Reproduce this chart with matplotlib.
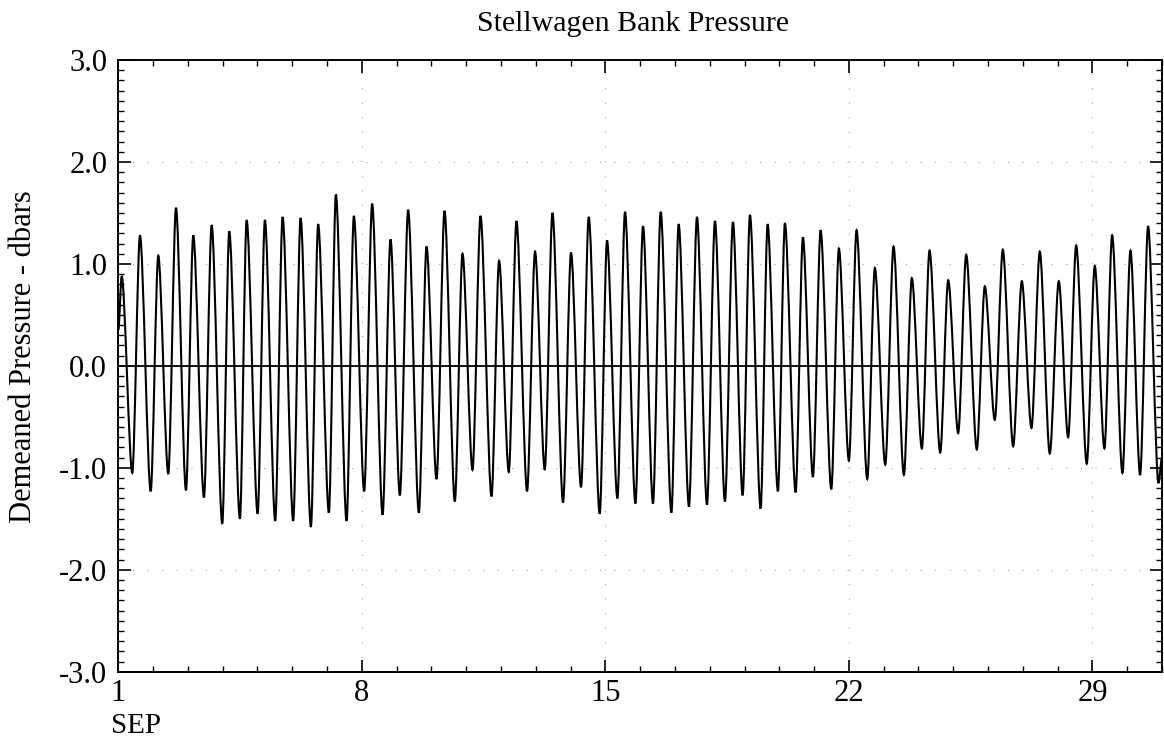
import matplotlib
matplotlib.use("Agg")
import matplotlib.pyplot as plt
from matplotlib.path import Path
from matplotlib.patches import PathPatch
from matplotlib.ticker import MultipleLocator, FixedLocator, FormatStrFormatter

plt.rcParams['font.family'] = ['Liberation Serif', 'DejaVu Serif']

# ---- data ----
title = "Stellwagen Bank Pressure"
ylabel = "Demeaned Pressure - dbars"
month_label = "SEP"
xtick_days = [1, 8, 15, 22, 29]

# high-water times (day of September) and values (dbar)
high_days = [1.098, 1.623, 2.149, 2.658, 3.155, 3.683, 4.189, 4.689, 5.214, 5.723,
             6.240, 6.745, 7.254, 7.771, 8.297, 8.825, 9.331, 9.860, 10.377, 10.894,
             11.411, 11.945, 12.445, 12.979, 13.479, 14.013, 14.522, 15.048, 15.565, 16.082,
             16.590, 17.107, 17.633, 18.150, 18.667, 19.156, 19.664, 20.161, 20.678, 21.187,
             21.713, 22.221, 22.747, 23.284, 23.810, 24.318, 24.855, 25.372, 25.907, 26.424,
             26.970, 27.487, 28.033, 28.533, 29.067, 29.567, 30.093, 30.600]
high_vals = [0.88, 1.28, 1.08, 1.55, 1.28, 1.38, 1.32, 1.43, 1.43, 1.46,
             1.45, 1.39, 1.68, 1.47, 1.59, 1.24, 1.53, 1.17, 1.52, 1.10,
             1.47, 1.03, 1.42, 1.12, 1.50, 1.11, 1.46, 1.23, 1.51, 1.37,
             1.51, 1.39, 1.46, 1.42, 1.41, 1.48, 1.39, 1.40, 1.26, 1.33,
             1.15, 1.33, 0.96, 1.17, 0.86, 1.13, 0.84, 1.09, 0.78, 1.14,
             0.83, 1.12, 0.83, 1.18, 0.98, 1.28, 1.13, 1.37]

# low-water times and values
low_days = [1.402, 1.931, 2.436, 2.945, 3.462, 3.988, 4.496, 5.005, 5.510, 6.027,
            6.536, 7.053, 7.561, 8.067, 8.596, 9.093, 9.639, 10.147, 10.673, 11.181,
            11.727, 12.224, 12.750, 13.258, 13.784, 14.301, 14.838, 15.346, 15.864, 16.369,
            16.898, 17.403, 17.921, 18.438, 18.946, 19.463, 19.960, 20.469, 20.966, 21.494,
            22.000, 22.528, 23.045, 23.580, 24.097, 24.625, 25.142, 25.677, 26.194, 26.722,
            27.248, 27.774, 28.302, 28.837, 29.345, 29.862, 30.371, 30.900]
low_vals = [-1.05, -1.23, -1.06, -1.22, -1.29, -1.55, -1.50, -1.45, -1.52, -1.52,
            -1.58, -1.44, -1.52, -1.23, -1.46, -1.27, -1.44, -1.11, -1.33, -1.02,
            -1.28, -1.04, -1.23, -1.02, -1.34, -1.19, -1.45, -1.30, -1.35, -1.35,
            -1.44, -1.38, -1.36, -1.33, -1.27, -1.40, -1.23, -1.24, -1.09, -1.21,
            -0.93, -1.11, -0.97, -1.07, -0.81, -0.85, -0.66, -0.82, -0.53, -0.79,
            -0.61, -0.86, -0.70, -0.96, -0.81, -1.05, -1.07, -1.15]

# record end points
start_day, start_val = 1.0, 0.35
end_day, end_val = 31.0, -0.9

# ---- series: extremes in time order ----
pts = [(start_day, start_val)] + list(zip(high_days, high_vals)) + \
      list(zip(low_days, low_vals)) + [(end_day, end_val)]
pts.sort(key=lambda p: p[0])

W, H = 1164, 740
fig = plt.figure(figsize=(W / 100, H / 100), dpi=100)
ax = fig.add_axes([118.3 / W, 1 - 671.7 / H, (1162 - 118.3) / W, (671.7 - 60) / H])

ax.set_xlim(1, 31)
ax.set_ylim(-3.0, 3.0)

# faint dotted grid at major ticks
for d in xtick_days[1:]:
    ax.axvline(d, color='0.55', lw=0.7, ls=(0, (1, 14)), zorder=1)
for yv in [-2, -1, 1, 2]:
    ax.axhline(yv, color='0.55', lw=0.7, ls=(0, (1, 14)), zorder=1)

ax.axhline(0, color='black', lw=1.3, zorder=2)

# smooth tidal trace: Bezier segments through the extremes (flat at each turn)
verts = [pts[0]]
codes = [Path.MOVETO]
k = 0.3
for (t0, v0), (t1, v1) in zip(pts[:-1], pts[1:]):
    dt = t1 - t0
    verts += [(t0 + k * dt, v0), (t1 - k * dt, v1), (t1, v1)]
    codes += [Path.CURVE4] * 3
trace = PathPatch(Path(verts, codes), facecolor='none', edgecolor='black',
                  lw=1.5, zorder=3, transform=ax.transData, clip_on=True)
ax.add_patch(trace)

ax.xaxis.set_major_locator(FixedLocator(xtick_days))
ax.set_xticklabels([str(d) for d in xtick_days])
ax.xaxis.set_minor_locator(MultipleLocator(1))
ax.yaxis.set_major_locator(MultipleLocator(1.0))
ax.yaxis.set_minor_locator(MultipleLocator(0.1))
ax.yaxis.set_major_formatter(FormatStrFormatter('%.1f'))

ax.tick_params(which='both', direction='in', top=True, right=True, color='black')
ax.tick_params(which='major', length=9, width=1.2, labelsize=22)
ax.tick_params(axis='y', which='major', pad=8)
ax.tick_params(axis='x', which='major', pad=5)
ax.tick_params(which='minor', length=4.5, width=1.0)
for s in ax.spines.values():
    s.set_linewidth(1.4)

ax.annotate(month_label, xy=(1, 0), xycoords=('data', 'axes fraction'),
            xytext=(-5, -44), textcoords='offset points', ha='left', va='baseline',
            fontsize=21)

fig.text(633 / W, 1 - 31 / H, title, ha='center', va='baseline', fontsize=21.5)
fig.text(24 / W, 1 - 357 / H, ylabel, ha='center', va='center', rotation=90, fontsize=22)

fig.savefig('out.png', dpi=100)
